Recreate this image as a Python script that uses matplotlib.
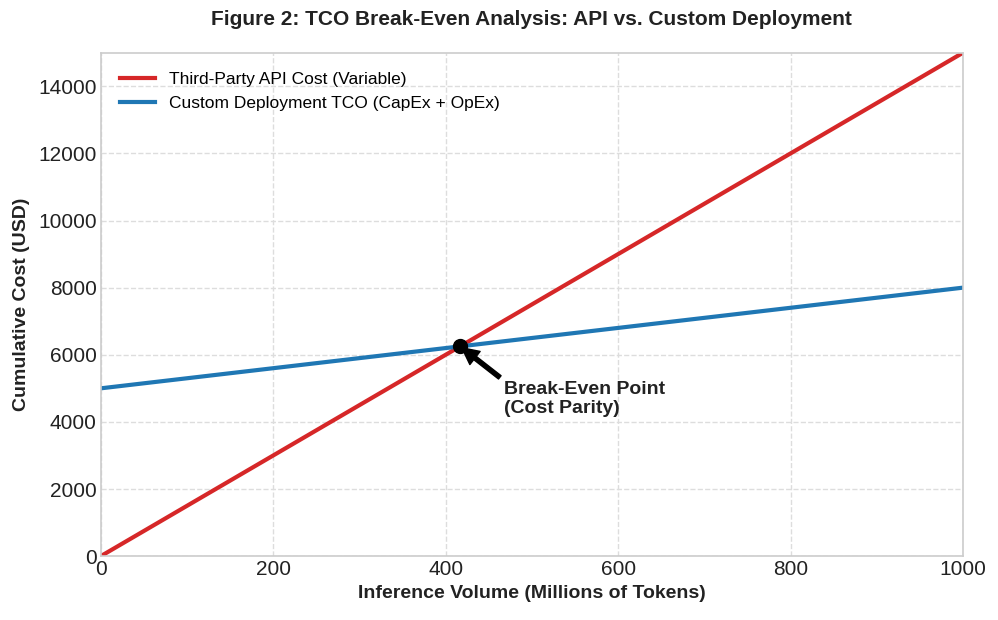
import numpy as np
import matplotlib.pyplot as plt

# token volume (millions) and cost lines
volume = [0, 1000]
api_cost = [0, 15000]
custom_tco = [5000, 8000]
break_even = (416.67, 6250)

plt.rcParams['font.family'] = ['Liberation Sans', 'DejaVu Sans']

fig, ax = plt.subplots(figsize=(9.98, 6.2), dpi=100)
fig.subplots_adjust(left=0.101, right=0.965, top=0.915, bottom=0.103)

ax.plot(volume, api_cost, color='#d62728', lw=3, label='Third-Party API Cost (Variable)')
ax.plot(volume, custom_tco, color='#1f77b4', lw=3, label='Custom Deployment TCO (CapEx + OpEx)')
ax.plot(*break_even, 'o', color='black', ms=10, zorder=5)

ax.annotate('Break-Even Point\n(Cost Parity)', xy=break_even, xytext=(468, 4250),
            fontsize=14, fontweight='bold', color='#222222',
            arrowprops=dict(facecolor='black', edgecolor='black', shrink=0.04,
                            width=3, headwidth=12, headlength=12))

ax.set_xlim(0, 1000)
ax.set_ylim(0, 15000)
ax.set_xticks([0, 200, 400, 600, 800, 1000])
ax.set_yticks(np.arange(0, 15000, 2000))
ax.tick_params(labelsize=15, length=0, pad=3, colors='#222222')
ax.grid(True, ls='--', color='#dddddd', lw=1)
for s in ax.spines.values():
    s.set_color('#cccccc')
    s.set_linewidth(1.2)

ax.set_xlabel('Inference Volume (Millions of Tokens)', fontsize=14, fontweight='bold', color='#222222')
ax.set_ylabel('Cumulative Cost (USD)', fontsize=14, fontweight='bold', color='#222222', labelpad=6)
ax.set_title('Figure 2: TCO Break-Even Analysis: API vs. Custom Deployment',
             fontsize=15, fontweight='bold', color='#222222', pad=20)
ax.legend(loc='upper left', frameon=False, fontsize=12.5, borderaxespad=0.7)

fig.savefig('out.png', dpi=100)
